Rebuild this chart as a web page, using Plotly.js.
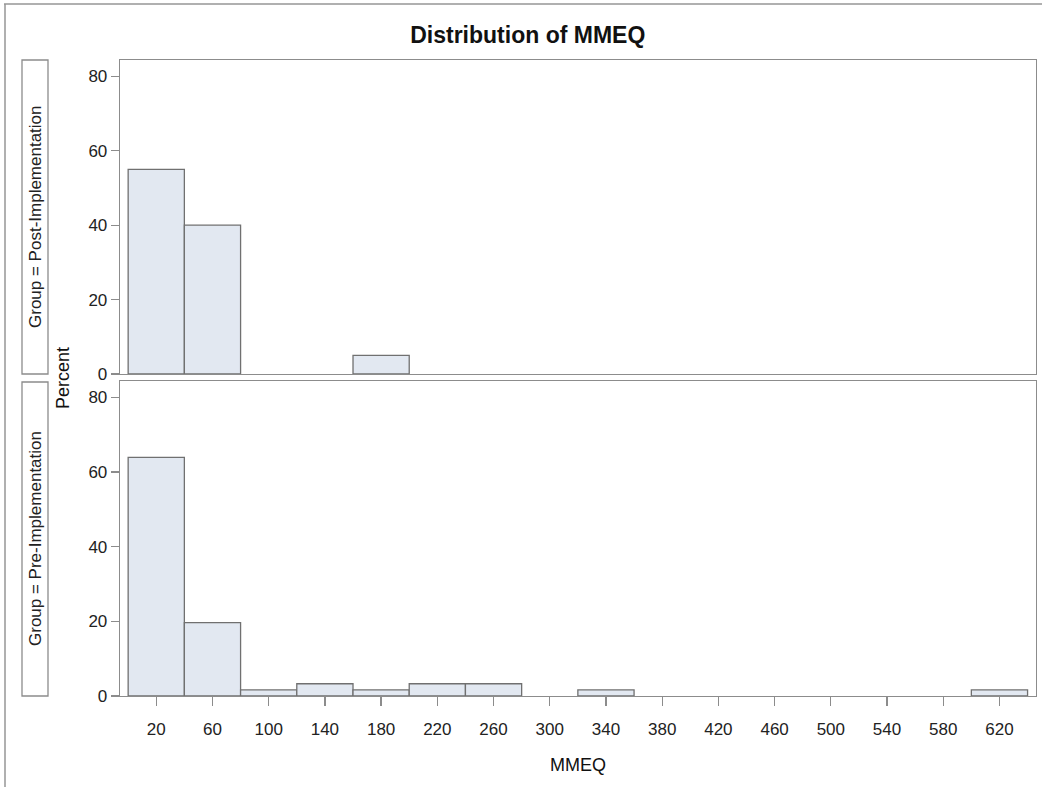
<!DOCTYPE html>
<html>
<head>
<meta charset="utf-8">
<script src="https://cdn.plot.ly/plotly-3.0.1.min.js"></script>
<style>html,body{margin:0;padding:0;background:#fff;}#chart{width:1043px;height:787px;}</style>
</head>
<body>
<div id="chart"></div>
<script>
// Bin midpoints (MMEQ), bin width 40
const binMidpoints = [20, 60, 100, 140, 180, 220, 260, 300, 340, 380, 420, 460, 500, 540, 580, 620];
// Percent per bin
const postPercent = [55, 40, 0, 0, 5, 0, 0, 0, 0, 0, 0, 0, 0, 0, 0, 0];
const prePercent  = [63.93, 19.67, 1.64, 3.28, 1.64, 3.28, 3.28, 0, 1.64, 0, 0, 0, 0, 0, 0, 1.64];
const tickValues = [20, 60, 100, 140, 180, 220, 260, 300, 340, 380, 420, 460, 500, 540, 580, 620];
const yTicks = [0, 20, 40, 60, 80];
const groupLabels = ["Group = Post-Implementation", "Group = Pre-Implementation"];

const fillColor = 'rgb(226,232,241)';
const edgeColor = 'rgb(112,112,112)';
const axisColor = 'rgb(140,140,140)';
const font = 'Liberation Sans, Arial, Helvetica, sans-serif';

function barTrace(vals, xa, ya) {
  const xs = [], ys = [];
  vals.forEach((v, i) => { if (v > 0) { xs.push(binMidpoints[i]); ys.push(v); } });
  return {
    type: 'bar', x: xs, y: ys, width: 40, xaxis: xa, yaxis: ya,
    marker: {color: fillColor, line: {color: edgeColor, width: 1.3}},
    hoverinfo: 'x+y', showlegend: false
  };
}

const data = [barTrace(postPercent, 'x', 'y'), barTrace(prePercent, 'x2', 'y2')];

const xCommon = {
  range: [-5.8, 646], tickmode: 'array', tickvals: tickValues,
  showline: true, mirror: true, linecolor: axisColor, linewidth: 1.3,
  showgrid: false, zeroline: false, ticks: 'outside', ticklen: 9, tickcolor: axisColor, tickwidth: 1.3,
  tickfont: {family: font, size: 17, color: '#222'}
};
const yCommon = {
  range: [0, 84.4], tickmode: 'array', tickvals: yTicks,
  showline: true, mirror: true, linecolor: axisColor, linewidth: 1.3,
  showgrid: false, zeroline: false, ticks: 'outside', ticklen: 8, tickcolor: axisColor, tickwidth: 1.3,
  tickfont: {family: font, size: 17, color: '#222'}
};

const topDom = [(696 - 374) / 636, 1];
const botDom = [0, (696 - 381) / 636];

const layout = {
  width: 1043, height: 787,
  margin: {l: 120, r: 7, t: 60, b: 91},
  paper_bgcolor: '#fff', plot_bgcolor: '#fff',
  bargap: 0,
  title: {text: '<b>Distribution of MMEQ</b>', x: 0.506, xanchor: 'center', y: 0.955, yanchor: 'middle',
          font: {family: font, size: 23, color: '#111'}},
  xaxis: Object.assign({}, xCommon, {anchor: 'y', showticklabels: false, ticks: ''}),
  xaxis2: Object.assign({}, xCommon, {anchor: 'y2', matches: 'x', ticklabelstandoff: 8,
          title: {text: 'MMEQ', font: {family: font, size: 18, color: '#111'}, standoff: 20}}),
  yaxis: Object.assign({}, yCommon, {domain: topDom, anchor: 'x'}),
  yaxis2: Object.assign({}, yCommon, {domain: botDom, anchor: 'x2'}),
  shapes: [
    // strip label boxes
    {type: 'rect', xref: 'paper', yref: 'paper', x0: (22 - 120) / 916, x1: (48 - 120) / 916,
     y0: topDom[0], y1: topDom[1], line: {color: axisColor, width: 1.3}},
    {type: 'rect', xref: 'paper', yref: 'paper', x0: (22 - 120) / 916, x1: (48 - 120) / 916,
     y0: botDom[0], y1: (696 - 382) / 636, line: {color: axisColor, width: 1.3}},
    // outer frame (top and left)
    {type: 'line', xref: 'paper', yref: 'paper', x0: (4 - 120) / 916, x1: (1042 - 120) / 916,
     y0: (696 - 4) / 636, y1: (696 - 4) / 636, line: {color: 'rgb(150,150,150)', width: 1.5}},
    {type: 'line', xref: 'paper', yref: 'paper', x0: (5 - 120) / 916, x1: (5 - 120) / 916,
     y0: (696 - 4) / 636, y1: (696 - 790) / 636, line: {color: 'rgb(150,150,150)', width: 1.5}}
  ],
  annotations: [
    {text: groupLabels[0], xref: 'paper', yref: 'paper', x: (35 - 120) / 916, y: (topDom[0] + topDom[1]) / 2,
     showarrow: false, textangle: -90, font: {family: font, size: 17, color: '#222'}, xanchor: 'center', yanchor: 'middle'},
    {text: groupLabels[1], xref: 'paper', yref: 'paper', x: (35 - 120) / 916, y: (botDom[0] + (696 - 382) / 636) / 2,
     showarrow: false, textangle: -90, font: {family: font, size: 17, color: '#222'}, xanchor: 'center', yanchor: 'middle'},
    {text: 'Percent', xref: 'paper', yref: 'paper', x: (63 - 120) / 916, y: (696 - 378) / 636,
     showarrow: false, textangle: -90, font: {family: font, size: 18, color: '#111'}, xanchor: 'center', yanchor: 'middle'}
  ]
};

Plotly.newPlot('chart', data, layout, {displayModeBar: false, staticPlot: true});
</script>
</body>
</html>
